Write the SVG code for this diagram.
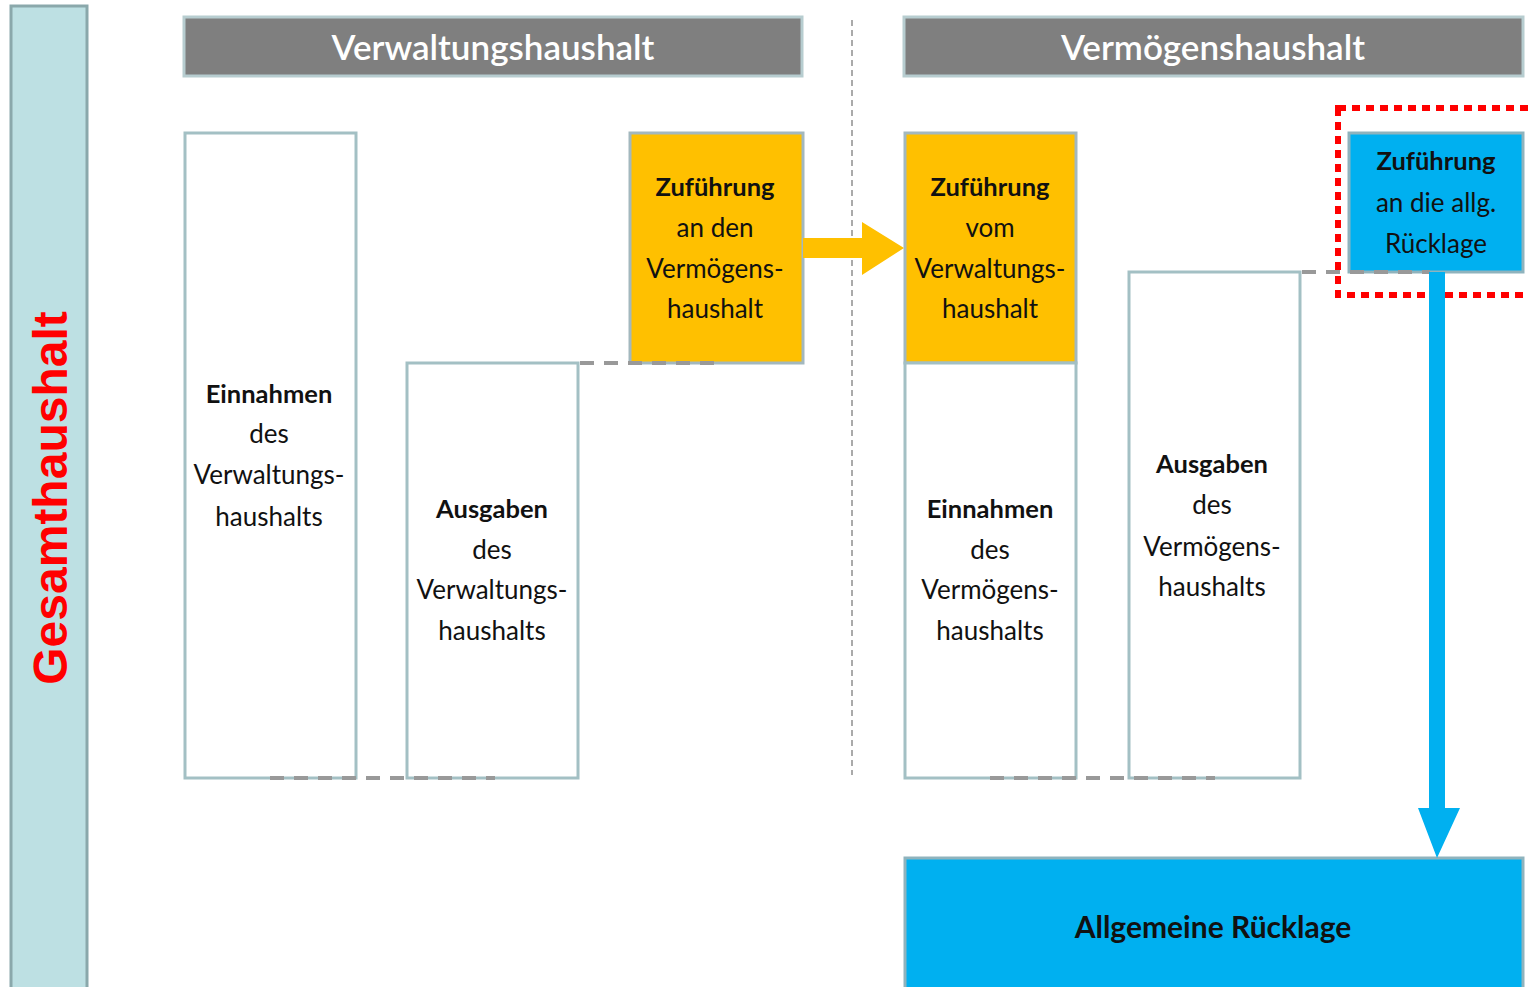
<svg xmlns="http://www.w3.org/2000/svg" width="1528" height="987" viewBox="0 0 1528 987">
<style>
.box{fill:#ffffff;stroke:#a3c0c4;stroke-width:3}
.org{fill:#ffc000;stroke:#a3b8be;stroke-width:3}
.blu{fill:#00b0f0;stroke:#8fb3bd;stroke-width:3}
.hdr{fill:#7f7f7f;stroke:#b7cdd0;stroke-width:3}
.t{font-family:Lato,"Open Sans","Liberation Sans",sans-serif;font-size:26px;fill:#111;text-anchor:middle;dominant-baseline:central}
.b{font-weight:bold;font-size:25.5px}
.ht{font-family:Lato,"Open Sans","Liberation Sans",sans-serif;font-size:35px;font-weight:600;fill:#ffffff;text-anchor:middle;dominant-baseline:central}
.dash{stroke:#999999;stroke-width:4;stroke-dasharray:14 10;fill:none}
</style>
<rect width="1528" height="987" fill="#ffffff"/>
<g id="gesamt">
<rect x="11" y="6" width="76" height="990" fill="#bde0e3" stroke="#8aa8ab" stroke-width="3"/>
<text transform="translate(50,498) rotate(-90)" font-family="Liberation Sans,Arial,sans-serif" font-weight="bold" font-size="48" fill="#ff0000" text-anchor="middle" dominant-baseline="central">Gesamthaushalt</text>
</g>
<g id="hdr-vwh">
<rect class="hdr" x="184" y="17" width="618" height="59"/>
<text class="ht" x="493" y="46">Verwaltungshaushalt</text>
</g>
<g id="hdr-vmh">
<rect class="hdr" x="904" y="17" width="619" height="59"/>
<text class="ht" x="1213" y="46">Vermögenshaushalt</text>
</g>
<g id="divider">
<line x1="852" y1="20" x2="852" y2="775" stroke="#aaaaaa" stroke-width="2" stroke-dasharray="6 4"/>
</g>
<g id="einnahmen-vwh">
<rect class="box" x="185" y="133" width="171" height="645"/>
<text class="t b" x="269" y="393">Einnahmen</text>
<text class="t" x="269" y="433">des</text>
<text class="t" x="269" y="474">Verwaltungs-</text>
<text class="t" x="269" y="516">haushalts</text>
</g>
<g id="ausgaben-vwh">
<rect class="box" x="407" y="363" width="171" height="415"/>
<text class="t b" x="492" y="508">Ausgaben</text>
<text class="t" x="492" y="549">des</text>
<text class="t" x="492" y="589">Verwaltungs-</text>
<text class="t" x="492" y="630">haushalts</text>
</g>
<g id="zufuehrung-an-vmh">
<rect class="org" x="630" y="133" width="173" height="230"/>
<text class="t b" x="715" y="186">Zuführung</text>
<text class="t" x="715" y="227">an den</text>
<text class="t" x="715" y="268">Vermögens-</text>
<text class="t" x="715" y="308">haushalt</text>
</g>
<g id="zufuehrung-vom-vwh">
<rect class="org" x="905" y="133" width="171" height="230"/>
<text class="t b" x="990" y="186">Zuführung</text>
<text class="t" x="990" y="227">vom</text>
<text class="t" x="990" y="268">Verwaltungs-</text>
<text class="t" x="990" y="308">haushalt</text>
</g>
<g id="einnahmen-vmh">
<rect class="box" x="905" y="363" width="171" height="415"/>
<text class="t b" x="990" y="508">Einnahmen</text>
<text class="t" x="990" y="549">des</text>
<text class="t" x="990" y="589">Vermögens-</text>
<text class="t" x="990" y="630">haushalts</text>
</g>
<g id="ausgaben-vmh">
<rect class="box" x="1129" y="272" width="171" height="506"/>
<text class="t b" x="1212" y="463">Ausgaben</text>
<text class="t" x="1212" y="504">des</text>
<text class="t" x="1212" y="546">Vermögens-</text>
<text class="t" x="1212" y="586">haushalts</text>
</g>
<g id="zufuehrung-ruecklage">
<rect class="blu" x="1349" y="133" width="174" height="139"/>
<text class="t b" x="1436" y="160">Zuführung</text>
<text class="t" x="1436" y="202">an die allg.</text>
<text class="t" x="1436" y="243">Rücklage</text>
<rect x="1338" y="108" width="195" height="187" fill="none" stroke="#ff0000" stroke-width="6" stroke-dasharray="8 6"/>
</g>
<g id="allgemeine-ruecklage">
<rect class="blu" x="905" y="858" width="618" height="140"/>
<text class="t b" x="1213" y="926" style="font-size:30px">Allgemeine Rücklage</text>
</g>
<g id="connectors">
<path class="dash" d="M580 363 H715"/>
<path class="dash" d="M270 778 H495"/>
<path class="dash" d="M990 778 H1215"/>
<path class="dash" d="M1302 272 H1430"/>
<polygon points="803,238 862,238 862,222 904,248 862,275 862,258 803,258" fill="#ffc000"/>
<polygon points="1429,272 1445,272 1445,808 1460,808 1437,858 1418,808 1429,808" fill="#00b0f0"/>
</g>
</svg>
